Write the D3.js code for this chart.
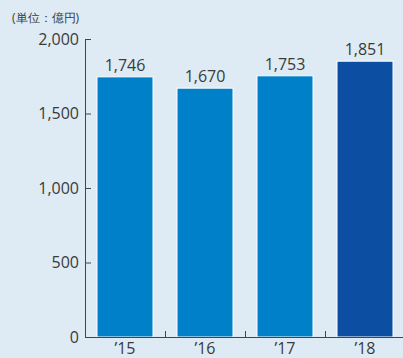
<!DOCTYPE html>
<html><head><meta charset="utf-8">
<script src="https://cdn.jsdelivr.net/npm/d3@7"></script>
<style>
html,body{margin:0;padding:0;background:#deebf4;}
svg{display:block;}
text{font-family:"Open Sans","Noto Sans",sans-serif;fill:#3a3a3a;}
</style></head>
<body>
<svg id="c" width="403" height="358"></svg>
<script>
const categories = ["’15","’16","’17","’18"];
const values = [1746,1670,1753,1851];
const yTicks = [0,500,1000,1500,2000];
const unitLabel = "(単位：億円)";

const svg = d3.select("#c");
svg.append("rect").attr("width",403).attr("height",358).attr("fill","#deebf4");

const x = d3.scaleBand().domain(categories).range([85,405]).paddingInner(0.3).paddingOuter(0.15);
const y = d3.scaleLinear().domain([0,2000]).range([337,39]);

// bars
svg.selectAll("rect.bar").data(values).enter().append("rect")
  .attr("class","bar")
  .attr("x",(d,i)=>x(categories[i]))
  .attr("width",x.bandwidth())
  .attr("y",d=>y(d))
  .attr("height",d=>y(0)-y(d))
  .attr("fill",(d,i)=>i===3?"#0b4ea2":"#0080c8")
  .attr("stroke","#ffffff").attr("stroke-width",1);

// value labels
svg.selectAll("text.val").data(values).enter().append("text")
  .attr("class","val")
  .attr("x",(d,i)=>x(categories[i])+x.bandwidth()/2)
  .attr("y",d=>y(d)-6)
  .attr("text-anchor","middle")
  .attr("font-size",16)
  .text(d=>d3.format(",")(d));

// y axis
const yAxis = d3.axisRight(y).tickValues(yTicks).tickSize(6).tickFormat(d3.format(","));
const ya = svg.append("g").attr("transform","translate(85,0)").call(yAxis);
ya.select(".domain").attr("stroke","#444").attr("d","M0.5,39V337.5");
ya.selectAll(".tick line").attr("stroke","#444");
ya.selectAll(".tick text").attr("x",-6).attr("text-anchor","end").attr("font-size",16)
  .attr("fill","#3a3a3a").attr("font-family","'Open Sans','Noto Sans',sans-serif");

// x axis
const xa = svg.append("g").attr("transform","translate(0,337)");
xa.append("line").attr("x1",85).attr("x2",403).attr("y1",0.5).attr("y2",0.5).attr("stroke","#444");
const sep = categories.slice(1).map(c=>x(c)-x.step()*x.paddingInner()/2);
xa.selectAll("line.sep").data(sep).enter().append("line")
  .attr("class","sep").attr("x1",d=>Math.round(d)+0.5).attr("x2",d=>Math.round(d)+0.5)
  .attr("y1",0).attr("y2",-6).attr("stroke","#444");
xa.selectAll("text").data(categories).enter().append("text")
  .attr("x",d=>x(d)+x.bandwidth()/2).attr("y",16.5)
  .attr("text-anchor","middle").attr("font-size",16).text(d=>d);

svg.append("text").attr("x",12).attr("y",22).attr("font-size",12).text(unitLabel);
</script>
</body></html>
